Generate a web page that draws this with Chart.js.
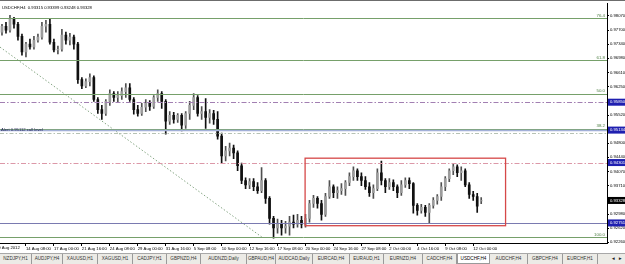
<!DOCTYPE html>
<html>
<head>
<meta charset="utf-8">
<script src="https://cdn.jsdelivr.net/npm/chart.js@4.4.0/dist/chart.umd.min.js"></script>
<style>
html,body{margin:0;padding:0;background:#fff;}
#wrap{position:relative;width:625px;height:264px;overflow:hidden;background:#fff;}
#c{position:absolute;left:0;top:0;}
#tabs{position:absolute;left:0;top:253px;width:625px;height:11px;background:#ecebe6;border-top:1px solid #a8a8a8;
  font-family:'Liberation Sans',Arial,sans-serif;font-size:4.6px;color:#333;}
.tab{position:absolute;top:0;height:10px;line-height:10px;text-align:center;border-right:1px solid #9a9a9a;box-sizing:border-box;}
.tab.on{background:#fff;border:1px solid #9a9a9a;border-top:none;color:#000;}
.arr{position:absolute;top:0;line-height:10px;font-size:4.6px;color:#222;}
</style>
</head>
<body>
<div id="wrap">
<canvas id="c" width="625" height="253"></canvas>
<div id="tabs"></div>
</div>
<script>
// USDCHF H4 candles (oldest first)
var opens = [
 0.9765,0.9780,0.9770,0.9798,0.9785,0.9754,0.9714,0.9734,0.9727,0.9744,
 0.9752,0.9780,0.9785,0.9739,0.9719,0.9721,0.9757,0.9744,0.9752,0.9734,
 0.9643,0.9627,0.9638,0.9648,0.9592,0.9566,0.9556,0.9587,0.9607,0.9597,
 0.9602,0.9612,0.9622,0.9592,0.9566,0.9556,0.9572,0.9582,0.9574,0.9597,
 0.9607,0.9587,0.9536,0.9551,0.9541,0.9551,0.9526,0.9556,0.9577,0.9597,
 0.9556,0.9561,0.9546,0.9556,0.9541,0.9498,0.9447,0.9460,0.9467,0.9455,
 0.9422,0.9384,0.9373,0.9381,0.9368,0.9358,0.9384,0.9338,0.9287,0.9262,
 0.9272,0.9262,0.9267,0.9277,0.9272,0.9282,0.9272,0.9287,0.9325,0.9338,
 0.9325,0.9297,0.9343,0.9368,0.9353,0.9358,0.9363,0.9379,0.9394,0.9409,
 0.9394,0.9384,0.9368,0.9353,0.9363,0.9404,0.9384,0.9368,0.9379,0.9368,
 0.9353,0.9373,0.9384,0.9376,0.9320,0.9307,0.9315,0.9302,0.9320,0.9333,
 0.9343,0.9368,0.9389,0.9409,0.9419,0.9404,0.9409,0.9373,0.9348,0.9343,
 0.93315];
var highs = [
 0.9785,0.9790,0.9808,0.9803,0.9790,0.9760,0.9739,0.9747,0.9754,0.9760,
 0.9790,0.9795,0.9800,0.9747,0.9729,0.9772,0.9765,0.9762,0.9757,0.9739,
 0.9648,0.9645,0.9658,0.9653,0.9597,0.9577,0.9592,0.9617,0.9612,0.9612,
 0.9622,0.9633,0.9633,0.9597,0.9577,0.9582,0.9592,0.9589,0.9602,0.9617,
 0.9612,0.9592,0.9561,0.9559,0.9556,0.9556,0.9561,0.9587,0.9607,0.9602,
 0.9574,0.9594,0.9566,0.9564,0.9561,0.9506,0.9472,0.9480,0.9475,0.9460,
 0.9429,0.9391,0.9389,0.9389,0.9379,0.9417,0.9389,0.9343,0.9292,0.9285,
 0.9282,0.9279,0.9292,0.9295,0.9297,0.9292,0.9297,0.9333,0.9346,0.9343,
 0.9333,0.9351,0.9384,0.9373,0.9368,0.9376,0.9384,0.9404,0.9419,0.9414,
 0.9404,0.9394,0.9379,0.9373,0.9414,0.9434,0.9389,0.9389,0.9386,0.9373,
 0.9384,0.9391,0.9391,0.9379,0.9325,0.9323,0.9320,0.9325,0.9340,0.9348,
 0.9379,0.9394,0.9414,0.9427,0.9424,0.9419,0.9414,0.9379,0.9356,0.9351,
 0.93399];
var lows = [
 0.9757,0.9762,0.9765,0.9775,0.9744,0.9706,0.9701,0.9721,0.9721,0.9739,
 0.9747,0.9765,0.9734,0.9714,0.9709,0.9716,0.9734,0.9732,0.9721,0.9633,
 0.9620,0.9622,0.9627,0.9587,0.9556,0.9541,0.9551,0.9577,0.9587,0.9584,
 0.9592,0.9597,0.9587,0.9554,0.9549,0.9551,0.9561,0.9564,0.9569,0.9587,
 0.9569,0.9503,0.9528,0.9531,0.9533,0.9511,0.9518,0.9541,0.9566,0.9549,
 0.9541,0.9518,0.9531,0.9528,0.9490,0.9429,0.9434,0.9447,0.9440,0.9409,
 0.9376,0.9363,0.9363,0.9358,0.9351,0.9353,0.9325,0.9272,0.9236,0.9249,
 0.9244,0.9249,0.9244,0.9262,0.9264,0.9262,0.9264,0.9277,0.9315,0.9313,
 0.9282,0.9292,0.9338,0.9340,0.9338,0.9348,0.9346,0.9371,0.9384,0.9384,
 0.9371,0.9361,0.9343,0.9338,0.9358,0.9373,0.9353,0.9361,0.9358,0.9340,
 0.9346,0.9366,0.9363,0.9300,0.9295,0.9300,0.9292,0.9274,0.9313,0.9323,
 0.9333,0.9358,0.9381,0.9399,0.9394,0.9384,0.9368,0.9338,0.9333,0.9302,
 0.93248];
var closes = [
 0.9780,0.9770,0.9798,0.9785,0.9754,0.9714,0.9734,0.9727,0.9744,0.9752,
 0.9780,0.9785,0.9739,0.9719,0.9721,0.9757,0.9744,0.9752,0.9734,0.9643,
 0.9627,0.9638,0.9648,0.9592,0.9566,0.9556,0.9587,0.9607,0.9597,0.9602,
 0.9612,0.9622,0.9592,0.9566,0.9556,0.9572,0.9582,0.9574,0.9597,0.9607,
 0.9587,0.9536,0.9551,0.9541,0.9551,0.9526,0.9556,0.9577,0.9597,0.9556,
 0.9561,0.9546,0.9556,0.9541,0.9498,0.9447,0.9460,0.9467,0.9455,0.9422,
 0.9384,0.9373,0.9381,0.9368,0.9358,0.9384,0.9338,0.9287,0.9262,0.9272,
 0.9262,0.9267,0.9277,0.9272,0.9282,0.9272,0.9287,0.9325,0.9338,0.9325,
 0.9297,0.9343,0.9368,0.9353,0.9358,0.9363,0.9379,0.9394,0.9409,0.9394,
 0.9384,0.9368,0.9353,0.9363,0.9404,0.9384,0.9368,0.9379,0.9368,0.9353,
 0.9373,0.9384,0.9376,0.9320,0.9307,0.9315,0.9302,0.9320,0.9333,0.9343,
 0.9368,0.9389,0.9409,0.9419,0.9404,0.9409,0.9373,0.9348,0.9343,0.9318,
 0.93328];

// time axis labels and the candle they sit on (first one hangs off the left edge)
var firstDate = '10 Aug 2012';
var dateTicks = ['14 Aug 08:00','17 Aug 00:00','21 Aug 16:00','24 Aug 08:00','29 Aug 00:00',
  '31 Aug 16:00','5 Sep 08:00','10 Sep 00:00','12 Sep 16:00','17 Sep 08:00','20 Sep 00:00','24 Sep 16:00',
  '27 Sep 08:00','2 Oct 00:00','4 Oct 16:00','9 Oct 08:00','12 Oct 00:00'];
var dateTickIdx = [6,13,20,27,34,41,48,55,62,69,76,83,90,97,104,111,118];

// price scale labels
var yTickVals = [0.98070,0.97700,0.97340,0.96980,0.96610,0.96250,0.95890,0.95520,0.95160,
  0.94800,0.94440,0.94070,0.93710,0.93350,0.92980,0.92620,0.92260];

// fibo levels, horizontal lines, trendline, box
var fibPrices = [0.98002,0.96927,0.96064,0.95174,0.92388];
var fibLabels = ['76.4','61.8','50.0','38.2','100.0'];
var hlinePrices = [0.95850,0.95134,0.95047,0.94301,0.92751];
var markedPrices = [0.95850,0.95134,0.94301,0.93328,0.92751];
var trendFrom = [-0.5,0.97265];
var trendTo = [65.4,0.92363];
var boxIdx = [75.9,126.1];
var boxPrices = [0.94413,0.92680];

var tabNames = ['NZDJPY,H1','AUDJPY,H4','XAUUSD,H1','XAGUSD,H1','CADJPY,H1','GBPNZD,H4','AUDNZD,Daily',
  'GBPAUD,H4','AUDCAD,Daily','EURCAD,H4','EURAUD,H1','EURNZD,H4','CADCHF,H4','USDCHF,H4','AUDCHF,H4',
  'GBPCHF,H4','EURCHF,H1'];
var tabEdges = [0,32,63,98,133,167,201,247,276,313,350,384,423,457,490,528,563,598];

var nSlots = 152;
var FONT = "'Liberation Sans', Arial, sans-serif";

var tabs = document.getElementById('tabs');
for (var t = 0; t < tabNames.length; t++) {
    var d = document.createElement('div');
    d.className = 'tab' + (tabNames[t] == 'USDCHF,H4' ? ' on' : '');
    d.style.left = tabEdges[t] + 'px';
    d.style.width = (tabEdges[t+1] - tabEdges[t]) + 'px';
    d.textContent = tabNames[t];
    tabs.appendChild(d);
}
var a1 = document.createElement('span'); a1.className='arr'; a1.style.left='611px'; a1.textContent='◄'; tabs.appendChild(a1);
var a2 = document.createElement('span'); a2.className='arr'; a2.style.left='618px'; a2.textContent='►'; tabs.appendChild(a2);

var slotLabels = [];
for (var s = 0; s < nSlots; s++) slotLabels.push(s);

var wickData = highs.map(function (h, i) { return [lows[i], h]; });
var bodyData = opens.map(function (o, i) { return [o, closes[i]]; });
var bodyFill = opens.map(function (o, i) { return closes[i] >= o ? '#9c9c9c' : '#101010'; });
var wickFill = opens.map(function (o, i) { return closes[i] >= o ? '#505050' : '#101010'; });

function px(chart, idx, price) {
    return [chart.scales.x.getPixelForValue(idx), chart.scales.y.getPixelForValue(price)];
}

var overlay = {
    id: 'overlay',
    afterDatasetsDraw: function (chart) {
        var ctx = chart.ctx, area = chart.chartArea, y = chart.scales.y;
        ctx.save();
        ctx.beginPath();
        ctx.rect(area.left, area.top, area.right - area.left, area.bottom - area.top);
        ctx.clip();

        // trendline
        var p1 = px(chart, trendFrom[0], trendFrom[1]), p2 = px(chart, trendTo[0], trendTo[1]);
        ctx.strokeStyle = '#86a684'; ctx.lineWidth = 1; ctx.setLineDash([1.5, 2]);
        ctx.beginPath(); ctx.moveTo(p1[0], p1[1]); ctx.lineTo(p2[0], p2[1]); ctx.stroke();

        // fibo lines
        ctx.setLineDash([]);
        ctx.strokeStyle = '#76a06a'; ctx.lineWidth = 1;
        fibPrices.forEach(function (v) {
            var yy = Math.round(y.getPixelForValue(v)) + 0.5;
            ctx.beginPath(); ctx.moveTo(area.left, yy); ctx.lineTo(area.right, yy); ctx.stroke();
        });
        ctx.fillStyle = '#4f7f45'; ctx.font = '4.4px ' + FONT; ctx.textAlign = 'right'; ctx.textBaseline = 'bottom';
        fibPrices.forEach(function (v, i) {
            ctx.fillText(fibLabels[i], area.right - 2, y.getPixelForValue(v) - 0.5);
        });

        // horizontal lines
        var styles = [
            {c: '#a27fb2', w: 1, d: [5, 2, 1.5, 2]},
            {c: '#a3b0d8', w: 1.5, d: []},
            {c: '#b7c2b4', w: 1, d: [4, 2, 1.5, 2]},
            {c: '#dc98a8', w: 1, d: [5, 2, 1.5, 2]},
            {c: '#7a7ab0', w: 1, d: []}
        ];
        hlinePrices.forEach(function (v, i) {
            var st = styles[i];
            var yy = Math.round(y.getPixelForValue(v)) + 0.5;
            ctx.strokeStyle = st.c; ctx.lineWidth = st.w; ctx.setLineDash(st.d);
            ctx.beginPath(); ctx.moveTo(area.left, yy); ctx.lineTo(area.right, yy); ctx.stroke();
        });
        ctx.setLineDash([]);
        ctx.fillStyle = '#1c1c50'; ctx.textAlign = 'left'; ctx.textBaseline = 'middle'; ctx.font = '4.2px ' + FONT;
        ctx.fillText('Alert 0.95112 call level', area.left + 1, y.getPixelForValue(hlinePrices[1]) - 0.5);

        // box
        var b1 = px(chart, boxIdx[0], boxPrices[0]), b2 = px(chart, boxIdx[1], boxPrices[1]);
        ctx.strokeStyle = '#d64848'; ctx.lineWidth = 1.3;
        ctx.strokeRect(b1[0], b1[1], b2[0] - b1[0], b2[1] - b1[1]);

        // symbol caption
        ctx.fillStyle = '#000'; ctx.font = '4.2px ' + FONT; ctx.textAlign = 'left'; ctx.textBaseline = 'top';
        ctx.fillText('USDCHF,H4  0.93315 0.93399 0.93248 0.93328', area.left + 2, area.top + 2);
        ctx.restore();
    },
    afterDraw: function (chart) {
        var ctx = chart.ctx, area = chart.chartArea, y = chart.scales.y;
        ctx.save();
        // window frame line on top
        ctx.fillStyle = '#6c6c6c'; ctx.fillRect(0, 0, chart.width, 1);
        // first date label, partly cut off at the left edge
        ctx.fillStyle = '#000'; ctx.font = '4.2px ' + FONT; ctx.textAlign = 'left'; ctx.textBaseline = 'top';
        ctx.fillText(firstDate, -4, area.bottom + 3);
        // marked prices on the price scale
        ctx.textBaseline = 'middle';
        markedPrices.forEach(function (v) {
            var yy = y.getPixelForValue(v);
            ctx.fillStyle = v == 0.93328 ? '#000000' : '#1f1fb0';
            ctx.fillRect(area.right + 1, yy - 3.5, chart.width - area.right, 7);
            ctx.fillStyle = '#fff';
            ctx.fillText(v.toFixed(5), area.right + 3, yy);
        });
        ctx.restore();
    }
};

var chart = new Chart(document.getElementById('c').getContext('2d'), {
    type: 'bar',
    data: {
        labels: slotLabels,
        datasets: [
            {
                label: 'wick', data: wickData, backgroundColor: wickFill, borderWidth: 0,
                barThickness: 1, grouped: false, order: 1
            },
            {
                label: 'body', data: bodyData, backgroundColor: bodyFill, borderWidth: 0,
                barThickness: 2, grouped: false, order: 0
            }
        ]
    },
    options: {
        responsive: false,
        animation: false,
        devicePixelRatio: 1,
        layout: { padding: { top: 1, left: 0, right: 0, bottom: 0 } },
        plugins: { legend: { display: false }, tooltip: { enabled: false } },
        scales: {
            x: {
                type: 'category',
                offset: true,
                afterFit: function (s) { s.height = 10; },
                ticks: {
                    autoSkip: false, maxRotation: 0, minRotation: 0, align: 'start', padding: 0,
                    color: '#000', font: { size: 4.2, family: FONT },
                    callback: function (v, i) {
                        var k = dateTickIdx.indexOf(i);
                        return k < 0 ? '' : dateTicks[k];
                    }
                },
                grid: {
                    drawOnChartArea: false, offset: false, tickLength: 3,
                    color: function (c) { return dateTickIdx.indexOf(c.index) >= 0 ? '#000' : 'rgba(0,0,0,0)'; }
                },
                border: { display: true, color: '#000' }
            },
            y: {
                position: 'right',
                min: 0.92236,
                max: 0.98383,
                afterFit: function (s) { s.width = 18; },
                afterBuildTicks: function (s) {
                    s.ticks = yTickVals.map(function (v) { return { value: v }; });
                },
                ticks: {
                    color: '#000', padding: 1, font: { size: 4.2, family: FONT },
                    callback: function (v) { return v.toFixed(5); }
                },
                grid: { drawOnChartArea: false, tickLength: 2, color: '#000' },
                border: { display: true, color: '#000' }
            }
        }
    },
    plugins: [overlay]
});
</script>
</body>
</html>
